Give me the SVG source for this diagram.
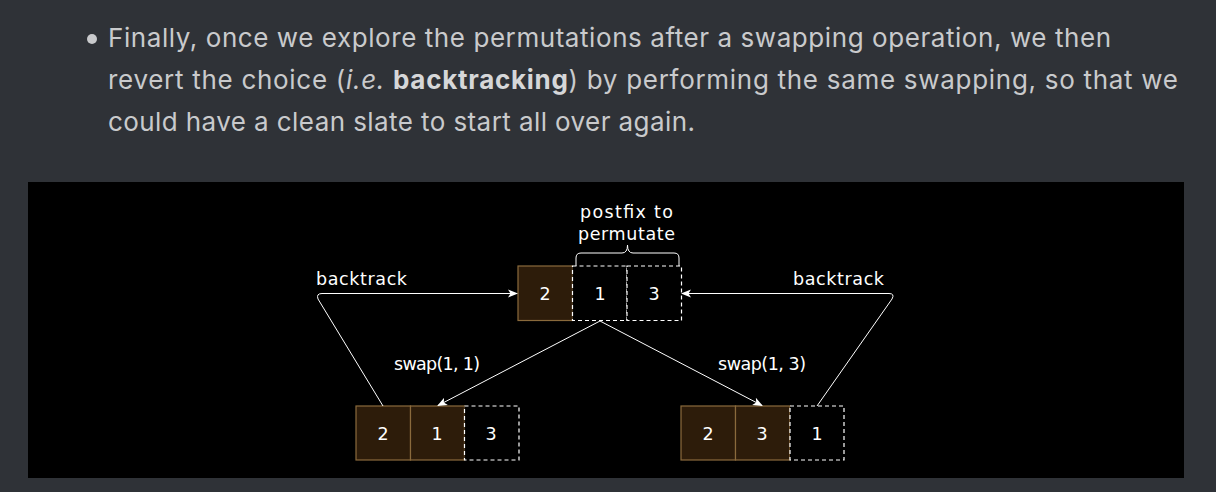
<svg xmlns="http://www.w3.org/2000/svg" width="1216" height="492" viewBox="0 0 1216 492">
<defs>
<style>
.para{font-family:Inter,"Noto Sans",sans-serif;font-size:26px;fill:#c9cacc}
.b{font-weight:bold;fill:#d6d7d9}
.lbl{font-family:"Comic Sans MS","DejaVu Sans",sans-serif;font-size:17.5px;fill:#ffffff}
.num{font-family:"Comic Sans MS","DejaVu Sans",sans-serif;font-size:17.5px;fill:#ffffff;text-anchor:middle}
.solid{fill:#2d1c0a;stroke:#8a6a3c;stroke-width:1.2}
.dash{fill:#000;stroke:#ffffff;stroke-width:1.2;stroke-dasharray:4 3}
.conn{fill:none;stroke:#ffffff;stroke-width:1}
</style>
<marker id="arr" viewBox="0 0 10 10" refX="9" refY="5" markerWidth="10" markerHeight="10" markerUnits="userSpaceOnUse" orient="auto">
<path d="M0,1 L10,5 L0,9 L2.5,5 Z" fill="#ffffff"/>
</marker>
</defs>
<rect x="0" y="0" width="1216" height="492" fill="#2f3237"/>
<g id="paragraph">
<circle cx="92" cy="39" r="5" fill="#c9cacc"/>
<text class="para" x="108" y="47" textLength="1003">Finally, once we explore the permutations after a swapping operation, we then</text>
<text class="para" x="108" y="89" textLength="1070">revert the choice (<tspan font-style="italic">i.e.</tspan> <tspan class="b">backtracking</tspan>) by performing the same swapping, so that we</text>
<text class="para" x="108" y="131" textLength="587">could have a clean slate to start all over again.</text>
</g>
<rect x="28" y="182" width="1156" height="296" fill="#000"/>
<g id="top-array">
<rect class="solid" x="518" y="266" width="54.5" height="54.5"/>
<rect class="dash" x="572.5" y="266" width="54.5" height="54.5"/>
<rect class="dash" x="627" y="266" width="54.5" height="54.5"/>
<text class="num" x="545" y="300">2</text>
<text class="num" x="600" y="300">1</text>
<text class="num" x="654" y="300">3</text>
</g>
<g id="postfix-label">
<path class="conn" d="M576,266 L576,258 Q576,253 581,253 L622,253 Q627.5,253 627.5,245 Q627.5,253 633,253 L674,253 Q679,253 679,258 L679,266" stroke="#dddddd"/>
<text class="lbl" x="580" y="218" textLength="93">postfix to</text>
<text class="lbl" x="578" y="240" textLength="97">permutate</text>
</g>
<g id="left-array">
<rect class="solid" x="356" y="406" width="54.5" height="54"/>
<rect class="solid" x="410.5" y="406" width="54" height="54"/>
<rect class="dash" x="464.5" y="406" width="54.5" height="54"/>
<text class="num" x="383" y="440">2</text>
<text class="num" x="437" y="440">1</text>
<text class="num" x="491" y="440">3</text>
</g>
<g id="right-array">
<rect class="solid" x="681" y="406" width="54.5" height="54"/>
<rect class="solid" x="735.5" y="406" width="54.5" height="54"/>
<rect class="dash" x="790" y="406" width="54" height="54"/>
<text class="num" x="708" y="440">2</text>
<text class="num" x="762" y="440">3</text>
<text class="num" x="817" y="440">1</text>
</g>
<g id="connectors">
<line class="conn" x1="600" y1="321" x2="438" y2="405.5" marker-end="url(#arr)"/>
<line class="conn" x1="600" y1="321" x2="762" y2="405.5" marker-end="url(#arr)"/>
<path class="conn" d="M383,406 L318,299 Q316,293.5 322,293.5 L517,293.5" marker-end="url(#arr)"/>
<path class="conn" d="M817,406 L892,299 Q895,293.5 889,293.5 L682,293.5" marker-end="url(#arr)"/>
</g>
<g id="labels">
<text class="lbl" x="316" y="285" textLength="91">backtrack</text>
<text class="lbl" x="793" y="285" textLength="91">backtrack</text>
<text class="lbl" x="394" y="370" textLength="86">swap(1, 1)</text>
<text class="lbl" x="718" y="370" textLength="88">swap(1, 3)</text>
</g>
</svg>
